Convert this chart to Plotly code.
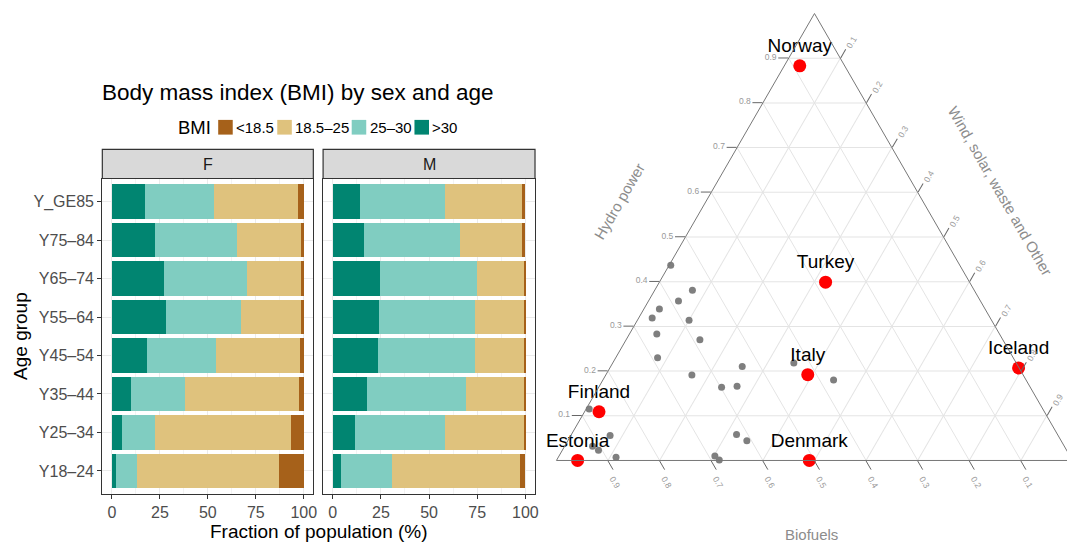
import plotly.graph_objects as go

W, H = 1080, 542          # figure slightly wider than the 1067 window (right edge clipped, as in reference)
FONT = "Liberation Sans, Arial, Helvetica, sans-serif"

# ---------------- Data: BMI by sex and age ----------------
age_groups = ["Y18–24", "Y25–34", "Y35–44", "Y45–54", "Y55–64", "Y65–74", "Y75–84", "Y_GE85"]
bmi_classes = [">30", "25–30", "18.5–25", "<18.5"]          # stacking order, left to right
legend_order = ["<18.5", "18.5–25", "25–30", ">30"]
bmi_colors = {"<18.5": "#A6611A", "18.5–25": "#DFC27D", "25–30": "#80CDC1", ">30": "#018571"}

f_over30 = [2.1, 5.2, 9.8, 18.1, 28.4, 27.4, 22.7, 17.0]
f_25_30 = [10.8, 17.5, 28.4, 36.1, 38.7, 42.8, 42.3, 36.2]
f_18_25 = [74.3, 70.7, 59.4, 43.9, 31.5, 28.4, 33.6, 43.8]
f_under18 = [12.8, 6.6, 2.4, 1.9, 1.4, 1.4, 1.4, 3.0]

m_over30 = [4.1, 11.4, 17.6, 23.3, 23.8, 24.4, 16.1, 14.0]
m_25_30 = [26.5, 47.1, 51.8, 50.3, 49.8, 50.7, 50.2, 44.5]
m_18_25 = [66.8, 41.2, 30.3, 26.1, 25.9, 24.4, 32.1, 39.9]
m_under18 = [2.6, 0.3, 0.3, 0.3, 0.5, 0.5, 1.6, 1.6]

x_ticks = [0, 25, 50, 75, 100]

# ---------------- Data: energy mix (ternary) ----------------
countries = ["Norway", "Turkey", "Italy", "Iceland", "Finland", "Estonia", "Denmark"]
c_hydro = [0.883, 0.399, 0.192, 0.207, 0.109, 0.000, 0.000]
c_bio = [0.087, 0.279, 0.417, 0.001, 0.863, 0.959, 0.510]
c_wind = [0.030, 0.322, 0.391, 0.792, 0.028, 0.041, 0.490]

o_hydro = [0.437, 0.381, 0.357, 0.339, 0.319, 0.314, 0.283, 0.270, 0.230, 0.191, 0.164, 0.166,
           0.210, 0.218, 0.180, 0.115, 0.056, 0.032, 0.023, 0.007, 0.010, 0.001, 0.058, 0.044]
o_bio = [0.560, 0.546, 0.585, 0.631, 0.655, 0.586, 0.664, 0.587, 0.689, 0.642, 0.598, 0.567,
         0.535, 0.431, 0.373, 0.879, 0.868, 0.914, 0.907, 0.881, 0.688, 0.684, 0.622, 0.609]
o_wind = [0.003, 0.073, 0.058, 0.030, 0.026, 0.100, 0.053, 0.143, 0.081, 0.167, 0.238, 0.267,
          0.255, 0.351, 0.447, 0.006, 0.076, 0.054, 0.070, 0.112, 0.302, 0.315, 0.320, 0.347]

tern_ticks = [0.1, 0.2, 0.3, 0.4, 0.5, 0.6, 0.7, 0.8, 0.9]


def px(x):
    return x / W


def py(y):
    return 1 - y / H


fig = go.Figure()

f_series = {">30": f_over30, "25–30": f_25_30, "18.5–25": f_18_25, "<18.5": f_under18}
m_series = {">30": m_over30, "25–30": m_25_30, "18.5–25": m_18_25, "<18.5": m_under18}

for cls in bmi_classes:
    fig.add_trace(go.Bar(x=f_series[cls], y=age_groups, orientation="h", name=cls,
                         marker=dict(color=bmi_colors[cls], line=dict(width=0)),
                         width=0.9, xaxis="x", yaxis="y", showlegend=False))
for cls in bmi_classes:
    fig.add_trace(go.Bar(x=m_series[cls], y=age_groups, orientation="h", name=cls,
                         marker=dict(color=bmi_colors[cls], line=dict(width=0)),
                         width=0.9, xaxis="x2", yaxis="y2", showlegend=False))

# ternary
fig.add_trace(go.Scatterternary(a=o_hydro, b=o_bio, c=o_wind, mode="markers",
                                marker=dict(color="#7F7F7F", size=7), cliponaxis=False,
                                showlegend=False))
fig.add_trace(go.Scatterternary(a=c_hydro, b=c_bio, c=c_wind, mode="markers+text",
                                text=countries, textposition="top center",
                                textfont=dict(size=19, color="black", family=FONT),
                                marker=dict(color="#FF0000", size=13), cliponaxis=False,
                                showlegend=False))

panel_y = [py(494), py(178.5)]
dom_f = [px(102.7), px(314.5)]
dom_m = [px(324.3), px(537)]

xcommon = dict(range=[-5, 105], tickvals=x_ticks, ticks="outside", ticklen=4,
               tickcolor="#333333", tickfont=dict(size=16, color="#4D4D4D", family=FONT),
               showgrid=True, gridcolor="#EBEBEB", gridwidth=1, zeroline=False,
               showline=True, linecolor="#333333", linewidth=1.2, mirror=True,
               minor=dict(tickvals=[12.5, 37.5, 62.5, 87.5], showgrid=True,
                          gridcolor="#F3F3F3", ticks=""))
ycommon = dict(type="category", categoryorder="array", categoryarray=age_groups,
               range=[-0.6, 7.6], domain=panel_y, showgrid=True, gridcolor="#EBEBEB",
               zeroline=False, showline=True, linecolor="#333333", linewidth=1.2, mirror=True)

tern_axis = dict(title=dict(text=""), tickvals=tern_ticks, tickformat=".1f", ticks="outside",
                 ticklen=10, tickcolor="#666666", tickwidth=1,
                 tickfont=dict(size=8.5, color="#999999", family=FONT),
                 showline=True, linecolor="#777777", linewidth=1,
                 showgrid=True, gridcolor="#E4E4E4", gridwidth=1)

# ternary triangle: bottom-left ~ (556, 461.3), side ~518 px
t_x0, t_side, t_bottom = 558.5, 518.0, 461.3
t_height = t_side * 3 ** 0.5 / 2

fig.update_layout(
    width=W, height=H, margin=dict(l=0, r=0, t=0, b=0),
    paper_bgcolor="white", plot_bgcolor="white",
    barmode="stack", bargap=0.1,
    font=dict(family=FONT),
    xaxis=dict(domain=dom_f, anchor="y", **xcommon),
    xaxis2=dict(domain=dom_m, anchor="y2", **xcommon),
    yaxis=dict(anchor="x", ticks="outside", ticklen=4, tickcolor="#333333",
               tickfont=dict(size=16, color="#4D4D4D", family=FONT), **ycommon),
    yaxis2=dict(anchor="x2", matches="y", showticklabels=False, ticks="", **ycommon),
    ternary=dict(domain=dict(x=[px(t_x0), px(t_x0 + t_side)],
                             y=[py(t_bottom), py(t_bottom - t_height)]),
                 bgcolor="white", sum=1,
                 aaxis=dict(tickangle=0, **tern_axis),
                 baxis=dict(tickangle=60, **tern_axis),
                 caxis=dict(tickangle=-60, **tern_axis)),
)

shapes = []
annotations = []

# facet strips
for dom, lab in [(dom_f, "F"), (dom_m, "M")]:
    shapes.append(dict(type="rect", xref="paper", yref="paper", x0=dom[0], x1=dom[1],
                       y0=py(178.5), y1=py(149.3), fillcolor="#D9D9D9",
                       line=dict(color="#333333", width=1.2), layer="above"))
    annotations.append(dict(xref="paper", yref="paper", x=(dom[0] + dom[1]) / 2, y=py(164),
                            text=lab, showarrow=False, xanchor="center", yanchor="middle",
                            font=dict(size=16, color="#1A1A1A", family=FONT)))

# title & axis titles (left chart)
annotations.append(dict(xref="paper", yref="paper", x=px(298.4), y=py(92), text="Body mass index (BMI) by sex and age",
                        showarrow=False, xanchor="center", yanchor="middle",
                        font=dict(size=22.5, color="black", family=FONT)))
annotations.append(dict(xref="paper", yref="paper", x=px(320), y=py(531), text="Fraction of population (%)",
                        showarrow=False, xanchor="center", yanchor="middle",
                        font=dict(size=19, color="black", family=FONT)))
annotations.append(dict(xref="paper", yref="paper", x=px(20), y=py(336), text="Age group", textangle=-90,
                        showarrow=False, xanchor="center", yanchor="middle",
                        font=dict(size=19, color="black", family=FONT)))

# custom legend
annotations.append(dict(xref="paper", yref="paper", x=px(214), y=py(127), text="BMI",
                        showarrow=False, xanchor="right", yanchor="middle",
                        font=dict(size=18.5, color="black", family=FONT)))
swatch_left = [219, 278.3, 353, 416]
for cls, sx in zip(legend_order, swatch_left):
    shapes.append(dict(type="rect", xref="paper", yref="paper", x0=px(sx), x1=px(sx + 14.6),
                       y0=py(134.6), y1=py(119.9), fillcolor=bmi_colors[cls], line=dict(width=0)))
    annotations.append(dict(xref="paper", yref="paper", x=px(sx + 16), y=py(127.3), text=cls,
                            showarrow=False, xanchor="left", yanchor="middle",
                            font=dict(size=15, color="black", family=FONT)))

# ternary axis titles
tcol = "#8C8C8C"
annotations.append(dict(xref="paper", yref="paper", x=px(621.5), y=py(201.5), text="Hydro power", textangle=-60,
                        showarrow=False, xanchor="center", yanchor="middle",
                        font=dict(size=15, color=tcol, family=FONT)))
annotations.append(dict(xref="paper", yref="paper", x=px(1004.5), y=py(191), text="Wind, solar, waste and Other",
                        textangle=60, showarrow=False, xanchor="center", yanchor="middle",
                        font=dict(size=15, color=tcol, family=FONT)))
annotations.append(dict(xref="paper", yref="paper", x=px(815), y=py(534), text="Biofuels",
                        showarrow=False, xanchor="center", yanchor="middle",
                        font=dict(size=15, color=tcol, family=FONT)))

fig.update_layout(shapes=shapes, annotations=annotations)
fig.write_html("out.html", config={"displayModeBar": False},
               post_script="document.body.style.margin='0';document.body.style.overflow='hidden';")
